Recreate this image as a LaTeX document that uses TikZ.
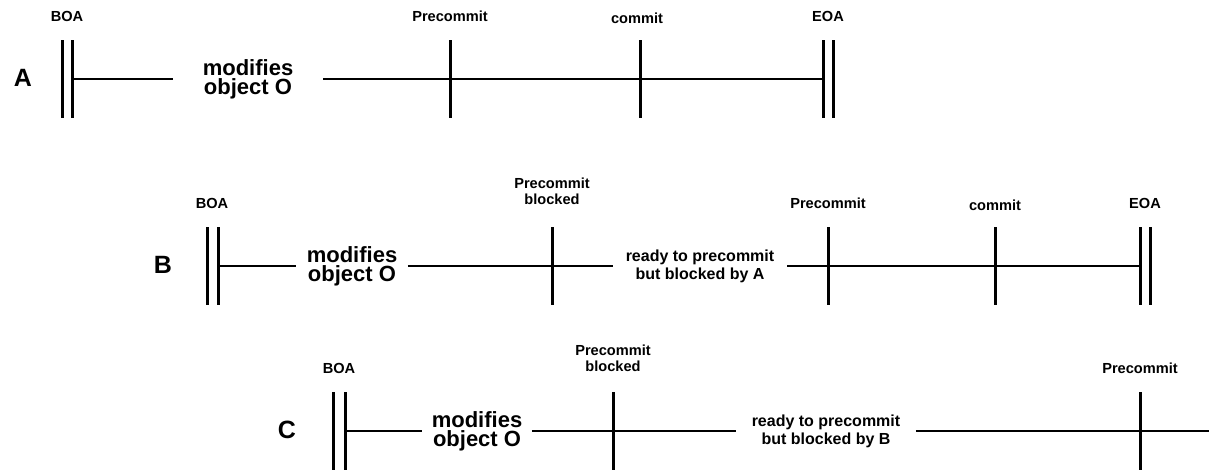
\documentclass[tikz,border=0pt]{standalone}
\usepackage{fontspec}
\setmainfont{Liberation Sans}
\usetikzlibrary{positioning}

\begin{document}
\begin{tikzpicture}[x=0.5pt,y=-0.5pt]
  \tikzset{BarStyle/.style = {
    shape          = rectangle,
    draw           = none,
    fill           = black,
    inner sep      = 0pt,
    outer sep      = 0pt,
    minimum width  = 1.5pt,
    minimum height = 39pt
    }
  }
  \tikzset{LineStyle/.style = {
    draw       = black,
    line width = 0.9pt
    }
  }
  \tikzset{TextStyle/.style = {
    align     = center,
    inner sep = 0pt,
    font      = \fontsize{11}{9.5}\selectfont\bfseries
    }
  }
  \tikzset{EventStyle/.style = {
    align     = center,
    inner sep = 0pt,
    font      = \fontsize{7.3}{8}\selectfont\bfseries
    }
  }
  \tikzset{TagStyle/.style = {
    inner sep = 0pt,
    font      = \fontsize{12.5}{14}\selectfont\bfseries
    }
  }

  \useasboundingbox (0,0) rectangle (1209,474);

  % transaction A
  \node[TagStyle](A0) at (23,78) {A};
  \node[BarStyle](A1) at (62,79) {};
  \node[BarStyle](A2) at (72,79) {};
  \node[TextStyle, minimum width=75pt](AMod) at (248,79) {modifies\\object O};
  \node[BarStyle](APre) at (450,79) {};
  \node[BarStyle](ACom) at (640,79) {};
  \node[BarStyle](AEoa1) at (823,79) {};
  \node[BarStyle](AEoa2) at (833,79) {};
  \draw[LineStyle](A2) -- (AMod);
  \draw[LineStyle](AMod) -- (APre);
  \draw[LineStyle](APre) -- (ACom);
  \draw[LineStyle](ACom) -- (AEoa1);

  \node[EventStyle, above=9pt of A1, xshift=2.5pt] {BOA};
  \node[EventStyle, above=9pt of APre] {Precommit};
  \node[EventStyle, above=8pt of ACom, xshift=-1.5pt] {commit};
  \node[EventStyle, above=9pt of AEoa1, xshift=2.5pt] {EOA};

  % transaction B
  \node[TagStyle](B0) at (163,265) {B};
  \node[BarStyle](B1) at (207,266) {};
  \node[BarStyle](B2) at (218,266) {};
  \node[TextStyle, minimum width=55.5pt](BMod) at (352,266) {modifies\\object O};
  \node[BarStyle](BBlk) at (552,266) {};
  \node[TextStyle, minimum width=87pt, font=\fontsize{8}{9}\selectfont\bfseries](BWait) at (700,266) {ready to precommit\\but blocked by A};
  \node[BarStyle](BPre) at (828,266) {};
  \node[BarStyle](BCom) at (995,266) {};
  \node[BarStyle](BEoa1) at (1140,266) {};
  \node[BarStyle](BEoa2) at (1150,266) {};
  \draw[LineStyle](B2) -- (BMod);
  \draw[LineStyle](BMod) -- (BBlk);
  \draw[LineStyle](BBlk) -- (BWait);
  \draw[LineStyle](BWait) -- (BPre);
  \draw[LineStyle](BPre) -- (BCom);
  \draw[LineStyle](BCom) -- (BEoa1);

  \node[EventStyle, above=9pt of B1, xshift=2.5pt] {BOA};
  \node[EventStyle, above=11pt of BBlk] {Precommit\\blocked};
  \node[EventStyle, above=9pt of BPre] {Precommit};
  \node[EventStyle, above=8pt of BCom] {commit};
  \node[EventStyle, above=9pt of BEoa1, xshift=2.5pt] {EOA};

  % transaction C
  \node[TagStyle](C0) at (287,430) {C};
  \node[BarStyle](C1) at (333,431) {};
  \node[BarStyle](C2) at (345,431) {};
  \node[TextStyle, minimum width=54.5pt](CMod) at (477,431) {modifies\\object O};
  \node[BarStyle](CBlk) at (613,431) {};
  \node[TextStyle, minimum width=89.5pt, font=\fontsize{8}{9}\selectfont\bfseries](CWait) at (826,431) {ready to precommit\\but blocked by B};
  \node[BarStyle](CPre) at (1140,431) {};
  \coordinate (CEnd) at (1209,431);
  \draw[LineStyle](C2) -- (CMod);
  \draw[LineStyle](CMod) -- (CBlk);
  \draw[LineStyle](CBlk) -- (CWait);
  \draw[LineStyle](CWait) -- (CPre);
  \draw[LineStyle](CPre) -- (CEnd);

  \node[EventStyle, above=9pt of C1, xshift=3pt] {BOA};
  \node[EventStyle, above=10pt of CBlk] {Precommit\\blocked};
  \node[EventStyle, above=9pt of CPre] {Precommit};

\end{tikzpicture}
\end{document}
